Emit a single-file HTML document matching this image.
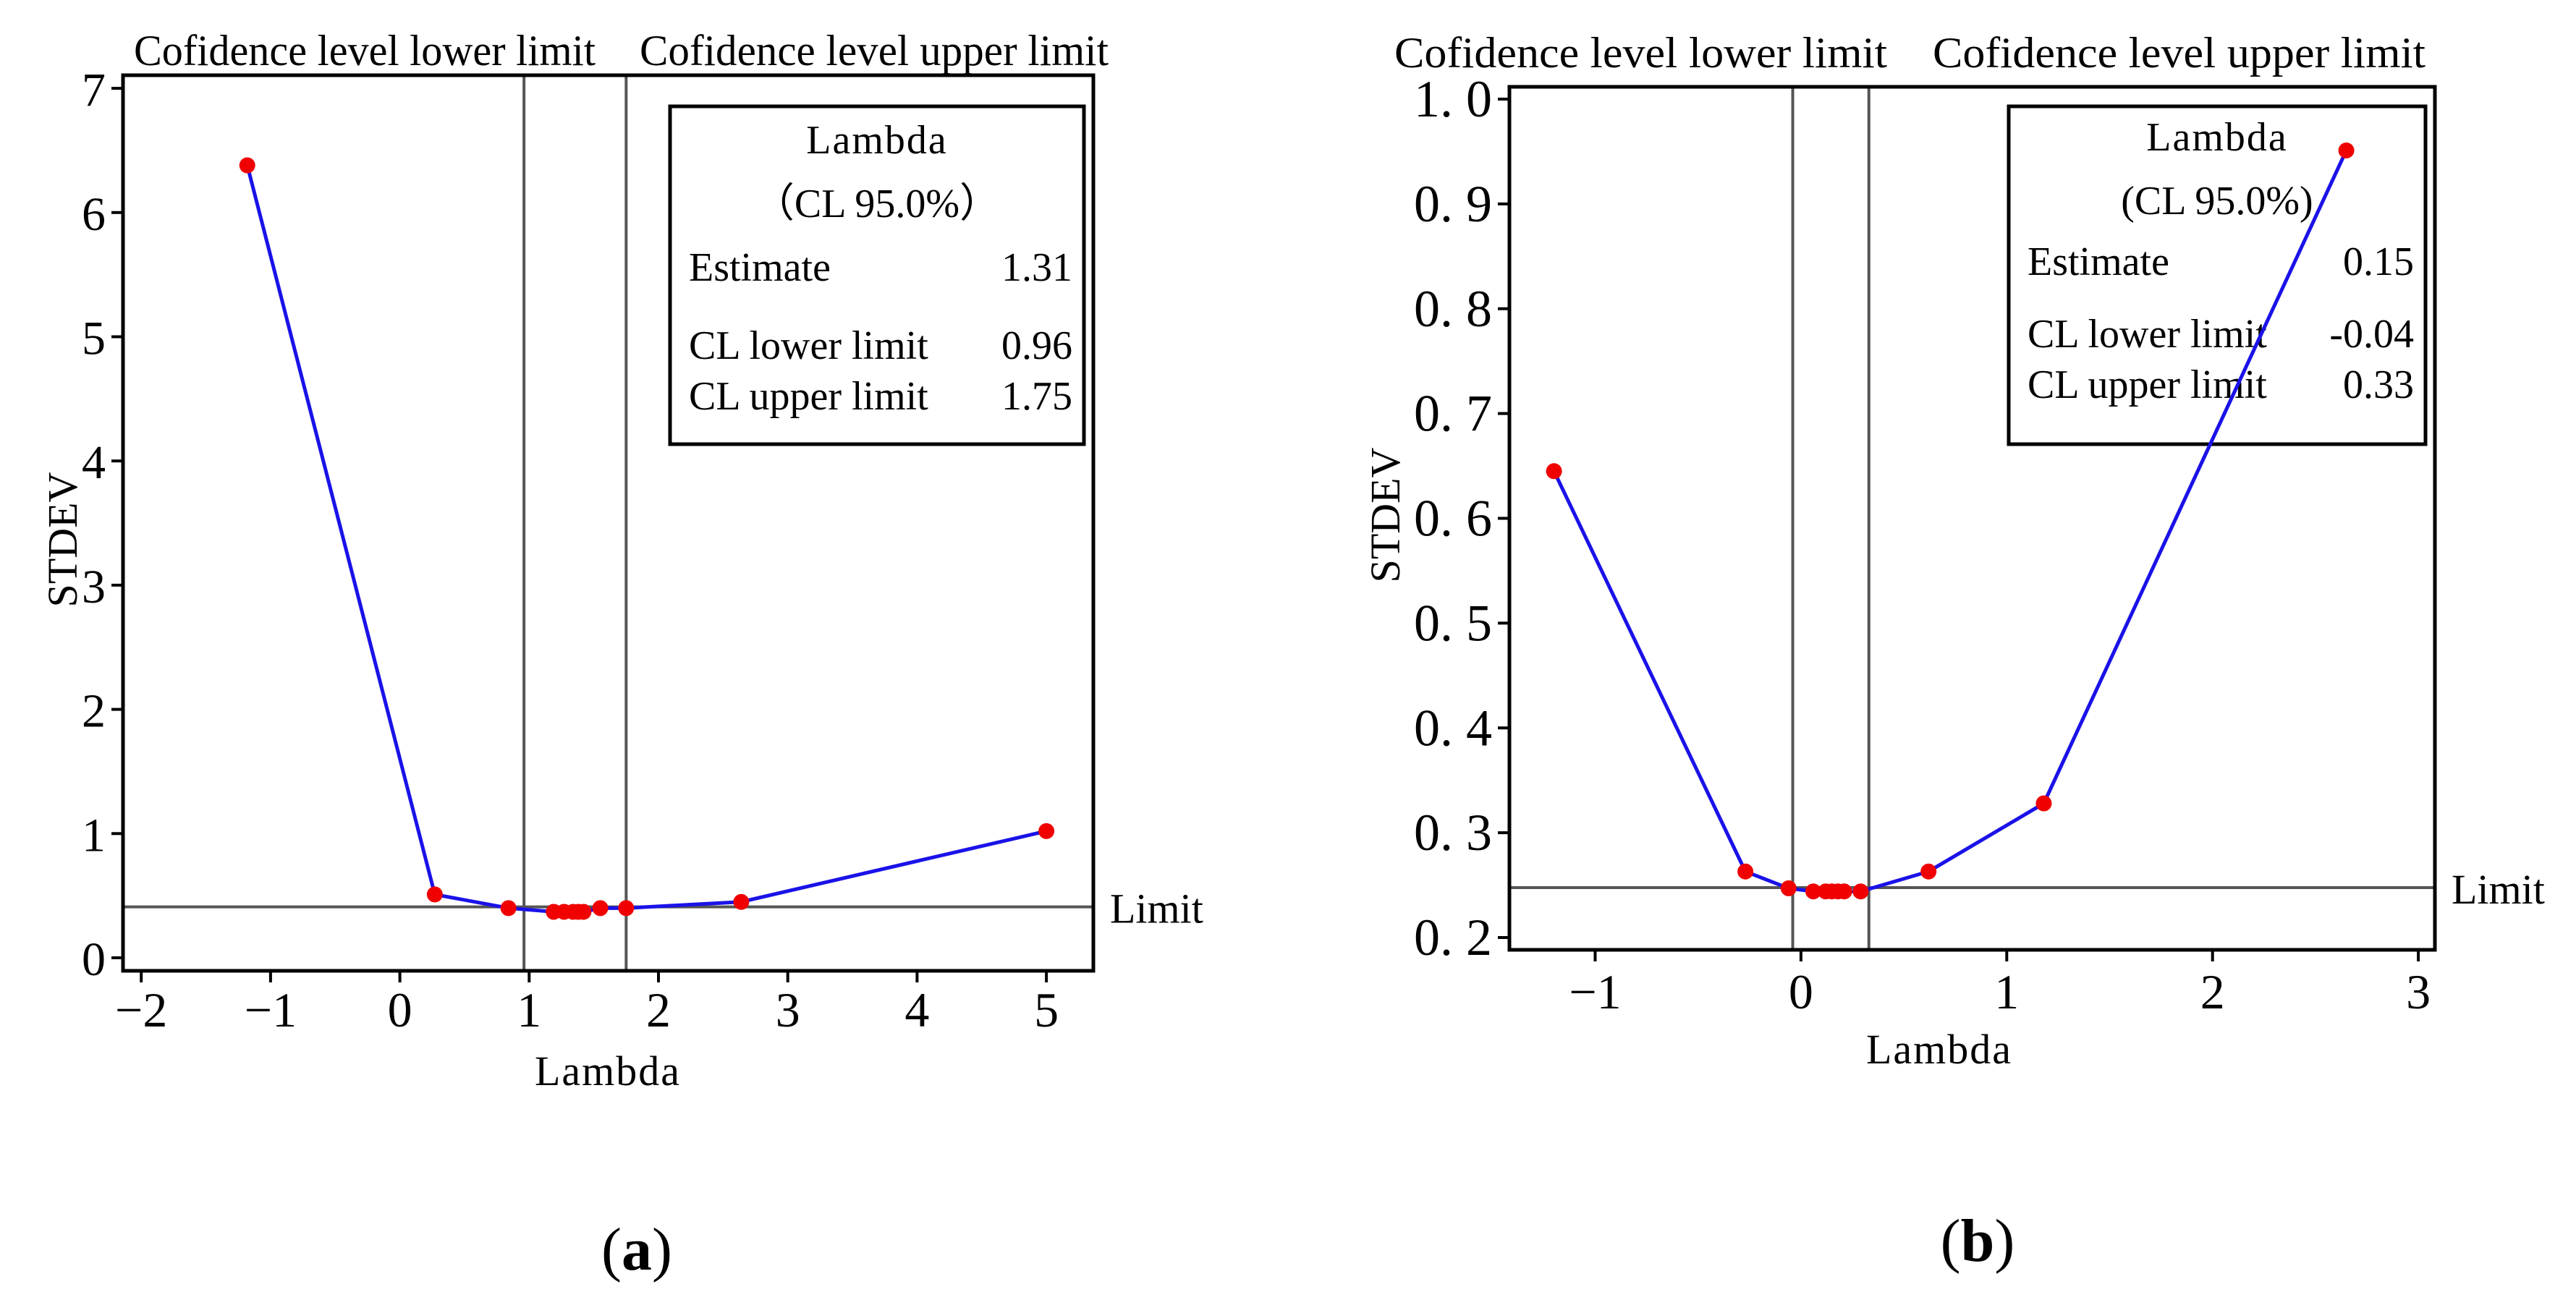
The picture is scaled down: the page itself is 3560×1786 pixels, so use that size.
<!DOCTYPE html>
<html><head><meta charset="utf-8"><style>
html,body{margin:0;padding:0;background:#fff;}
svg{display:block;font-family:"Liberation Serif",serif;}
</style></head><body>
<svg id="fig" width="3560" height="1786" viewBox="0 0 3560 1786" xmlns="http://www.w3.org/2000/svg">
<rect width="3560" height="1786" fill="#fff"/>
</svg>
<script>
// Panel (a) data
const lambdaA = [-1.18, 0.27, 0.84, 1.19, 1.27, 1.34, 1.38, 1.42, 1.55, 1.75, 2.64, 5.0];
const stdevA  = [6.38, 0.51, 0.40, 0.37, 0.37, 0.37, 0.37, 0.37, 0.40, 0.40, 0.45, 1.02];
const xTicksA = [-2, -1, 0, 1, 2, 3, 4, 5];
const xTickLabelsA = ["\u22122", "\u22121", "0", "1", "2", "3", "4", "5"];
const yTicksA = [0, 1, 2, 3, 4, 5, 6, 7];
const yTickLabelsA = ["0", "1", "2", "3", "4", "5", "6", "7"];
const clA = [0.96, 1.75];
const limitA = 0.41;
const statsA = ["1.31", "0.96", "1.75"];

// Panel (b) data
const lambdaB = [-1.2, -0.27, -0.06, 0.06, 0.12, 0.15, 0.18, 0.21, 0.29, 0.62, 1.18, 2.65];
const stdevB  = [0.645, 0.263, 0.247, 0.244, 0.244, 0.244, 0.244, 0.244, 0.244, 0.263, 0.328, 0.951];
const xTicksB = [-1, 0, 1, 2, 3];
const xTickLabelsB = ["\u22121", "0", "1", "2", "3"];
const yTicksB = [0.2, 0.3, 0.4, 0.5, 0.6, 0.7, 0.8, 0.9, 1.0];
const yTickLabelsB = ["0. 2", "0. 3", "0. 4", "0. 5", "0. 6", "0. 7", "0. 8", "0. 9", "1. 0"];
const clB = [-0.04, 0.33];
const limitB = 0.2476;
const statsB = ["0.15", "-0.04", "0.33"];

const NS = "http://www.w3.org/2000/svg";
const svg = document.getElementById("fig");
function mk(tag, attrs, parent, text) {
  const e = document.createElementNS(NS, tag);
  for (const k in attrs) e.setAttribute(k, attrs[k]);
  if (text !== undefined) e.textContent = text;
  (parent || svg).appendChild(e);
  return e;
}

function panel(p) {
  const g = mk("g", {});
  
  
  const sx = v => p.x0 + (v - p.xa) * p.xs;
  const sy = v => p.y0 - (v - p.ya) * p.ys;

  let t = mk("text", {x: p.t1[0], y: p.tb, "font-size": 60, textLength: p.t1[1] - p.t1[0], lengthAdjust: "spacingAndGlyphs"}, g, "Cofidence level lower limit");
   
  t = mk("text", {x: p.t2[0], y: p.tb, "font-size": 60, textLength: p.t2[1] - p.t2[0], lengthAdjust: "spacingAndGlyphs"}, g, "Cofidence level upper limit");
   

  p.cl.forEach(v => {
    const l = mk("line", {x1: sx(v), x2: sx(v), y1: p.top, y2: p.bottom, stroke: "#555", "stroke-width": 4}, g);
    
    
  });
  let ll = mk("line", {x1: p.left, x2: p.right, y1: sy(p.limit), y2: sy(p.limit), stroke: "#555", "stroke-width": 4}, g);
  
  
  t = mk("text", {x: p.right + 23, y: sy(p.limit) + 22, "font-size": 58}, g, "Limit");
   

  const b = p.box;
  let r = mk("rect", {x: b[0], y: b[1], width: b[2] - b[0], height: b[3] - b[1], fill: "none", stroke: "#000", "stroke-width": 5}, g);
   
  const cx = (b[0] + b[2]) / 2;
  t = mk("text", {x: cx, y: p.lb[0], "font-size": 56, "text-anchor": "middle", "letter-spacing": 2}, g, "Lambda");
   
  t = mk("text", {x: cx, y: p.lb[1], "font-size": 56, "text-anchor": "middle"}, g, p.clText);
   
  const labs = ["Estimate", "CL lower limit", "CL upper limit"];
  labs.forEach((s, i) => {
    const a = mk("text", {x: b[0] + 26, y: p.lb[2 + i], "font-size": 56}, g, s);
    
    
    const v = mk("text", {x: b[2] - 16, y: p.lb[2 + i], "font-size": 56, "text-anchor": "end"}, g, p.stats[i]);
    
    
  });

  const pts = p.lx.map((v, i) => sx(v) + "," + sy(p.ly[i])).join(" ");
  const pl = mk("polyline", {points: pts, fill: "none", stroke: "#1a12e8", "stroke-width": 5}, g);
  
  
  p.lx.forEach((v, i) => {
    const c = mk("circle", {cx: sx(v), cy: sy(p.ly[i]), r: 11, fill: "#f00000"}, g);
    
    
  });

  r = mk("rect", {x: p.left, y: p.top, width: p.right - p.left, height: p.bottom - p.top, fill: "none", stroke: "#000", "stroke-width": 5}, g);
   

  p.xt.forEach((v, i) => {
    const tk = mk("line", {x1: sx(v), x2: sx(v), y1: p.bottom, y2: p.bottom + 16, stroke: "#000", "stroke-width": 4}, g);
    
    
    const tl = mk("text", {x: sx(v), y: p.xlb, "font-size": 68, "text-anchor": "middle"}, g, p.xtl[i]);
    
    
  });
  p.yt.forEach((v, i) => {
    const tk = mk("line", {x1: p.left - 16, x2: p.left, y1: sy(v), y2: sy(v), stroke: "#000", "stroke-width": 4}, g);
    
    
    const tl = mk("text", {x: p.left - 24, y: sy(v) + 24, "font-size": p.yfs, "text-anchor": "end"}, g, p.ytl[i]);
    
    
  });
  t = mk("text", {x: p.xTitle[0], y: p.xTitle[1], "font-size": 58, "text-anchor": "middle", "letter-spacing": 2}, g, "Lambda");
   
  t = mk("text", {x: 0, y: 0, "font-size": 58, "text-anchor": "middle", transform: "translate(" + p.yTitle[0] + "," + p.yTitle[1] + ") rotate(-90)"}, g, "STDEV");
   
  t = mk("text", {x: p.plab[0], y: p.plab[1], "font-size": 84, "text-anchor": "middle"}, g);
   
  mk("tspan", {}, t, "(");
  mk("tspan", {"font-weight": "bold"}, t, p.letter);
  mk("tspan", {}, t, ")");
}

panel({name: "panel-a", left: 170, right: 1511, top: 104, bottom: 1342,
  xa: 0, x0: 552.6, xs: 178.7, ya: 0, y0: 1324, ys: 171.7,
  lx: lambdaA, ly: stdevA, xt: xTicksA, xtl: xTickLabelsA, yt: yTicksA, ytl: yTickLabelsA, yfs: 66,
  cl: clA, limit: limitA, stats: statsA, clText: "\uFF08CL 95.0%\uFF09",
  t1: [185, 823], t2: [884, 1532], tb: 90,
  box: [926, 147, 1498, 614], lb: [212, 300, 388, 496, 566],
  xlb: 1419, xTitle: [840, 1500], yTitle: [106, 746], plab: [880, 1755], letter: "a"});

panel({name: "panel-b", left: 2086, right: 3365, top: 120, bottom: 1313,
  xa: 0, x0: 2488.9, xs: 284.4, ya: 0.2, y0: 1296, ys: 1448.75,
  lx: lambdaB, ly: stdevB, xt: xTicksB, xtl: xTickLabelsB, yt: yTicksB, ytl: yTickLabelsB, yfs: 72,
  cl: clB, limit: limitB, stats: statsB, clText: "(CL 95.0%)",
  t1: [1927, 2608], t2: [2671, 3352], tb: 93,
  box: [2776, 147, 3352, 614], lb: [208, 296, 380, 480, 550],
  xlb: 1394, xTitle: [2680, 1470], yTitle: [1934, 712], plab: [2733, 1743], letter: "b"});
</script>
</body></html>
